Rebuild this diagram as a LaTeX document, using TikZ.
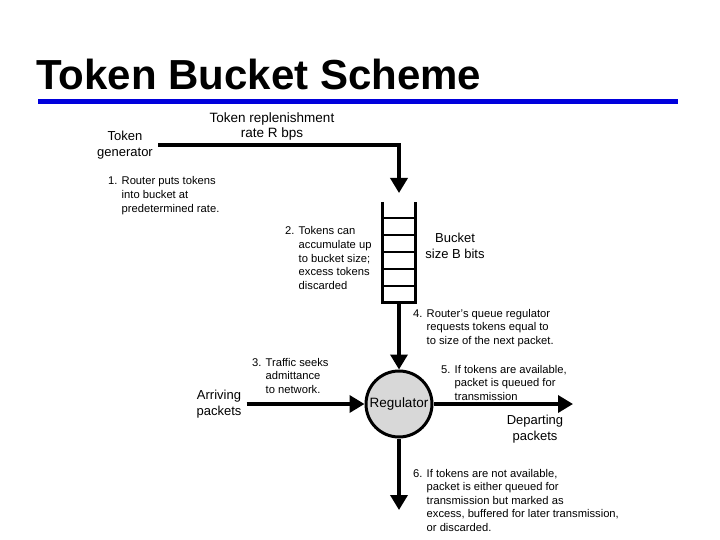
\documentclass[tikz,border=0pt]{standalone}
\usepackage{fontspec}
\setmainfont{Liberation Sans}
\usetikzlibrary{arrows.meta,positioning}
\definecolor{titlebar}{RGB}{0,0,220}
\definecolor{regfill}{RGB}{216,216,216}

\begin{document}
\begin{tikzpicture}[
	x=1pt, y=-1pt,
	>={Triangle[length=15pt,width=17pt]},
	lbl/.style={font=\fontsize{13}{16.5}\selectfont, align=center, inner sep=0pt},
	note/.style={font=\fontsize{11.2}{13.6}\selectfont, anchor=base west, inner sep=0pt},
	arr/.style={->, line width=3.5pt},
	wall/.style={line width=3pt},
	slot/.style={line width=1.4pt}
]
\useasboundingbox (0,0) rectangle (720,540);

% Title
\node[anchor=base west, inner sep=0pt, font=\fontsize{42}{46}\selectfont\bfseries]
	(title) at (36,90) {Token Bucket Scheme};
\fill[titlebar] (38,99) rectangle (678,104);

% Token generator
\node[lbl] (gen) at (125,145) {Token\\generator};
\node[lbl, font=\fontsize{13.5}{15}\selectfont] (rate) at (272,127) {Token replenishment\\rate R bps};
\coordinate (tok) at (399,193);
\draw[arr] ([xshift=5pt]gen.east) -| (tok);

\node[note] (s1) at (108,185) {\begin{tabular}[t]{@{}l@{ }l@{}}1.&Router puts tokens\\&into bucket at\\&predetermined rate.\end{tabular}};

% Bucket
\node[minimum width=32pt, minimum height=100pt, inner sep=0pt] (bucket) at (399,252) {};
\draw[wall] (bucket.north west) -- (bucket.south west) -- (bucket.south east) -- (bucket.north east);
\foreach \y in {218,235,252,269,286}
	\draw[slot] (bucket.west |- 0,\y) -- (bucket.east |- 0,\y);
\node[lbl] (bsize) at (455,246) {Bucket\\size B bits};

\node[note] (s2) at (285,235) {\begin{tabular}[t]{@{}l@{ }l@{}}2.&Tokens can\\&accumulate up\\&to bucket size;\\&excess tokens\\&discarded\end{tabular}};

% Regulator
\node[circle, draw, line width=3pt, fill=regfill, minimum size=66pt, inner sep=0pt,
	font=\fontsize{13.5}{15}\selectfont] (reg) at (399,404) {Regulator};
\draw[arr] (bucket.south) -- (reg.north);

\node[note] (s4) at (413,317) {\begin{tabular}[t]{@{}l@{ }l@{}}4.&Router's queue regulator\\&requests tokens equal to\\&to size of the next packet.\end{tabular}};

% Arriving
\node[lbl] (arrive) at (219,404) {Arriving\\packets};
\draw[arr] ([xshift=5pt]arrive.east) -- (reg.west);
\node[note] (s3) at (252,366) {\begin{tabular}[t]{@{}l@{ }l@{}}3.&Traffic seeks\\&admittance\\&to network.\end{tabular}};

% Departing
\coordinate (dep) at (573,404);
\draw[arr] (reg.east) -- (dep);
\node[lbl] (depart) at (535,429) {Departing\\packets};
\node[note] (s5) at (441,373) {\begin{tabular}[t]{@{}l@{ }l@{}}5.&If tokens are available,\\&packet is queued for\\&transmission\end{tabular}};

% Not available
\coordinate (drop) at (399,510);
\draw[arr] (reg.south) -- (drop);
\node[note] (s6) at (413,477) {\begin{tabular}[t]{@{}l@{ }l@{}}6.&If tokens are not available,\\&packet is either queued for\\&transmission but marked as\\&excess, buffered for later transmission,\\&or discarded.\end{tabular}};

\end{tikzpicture}
\end{document}
